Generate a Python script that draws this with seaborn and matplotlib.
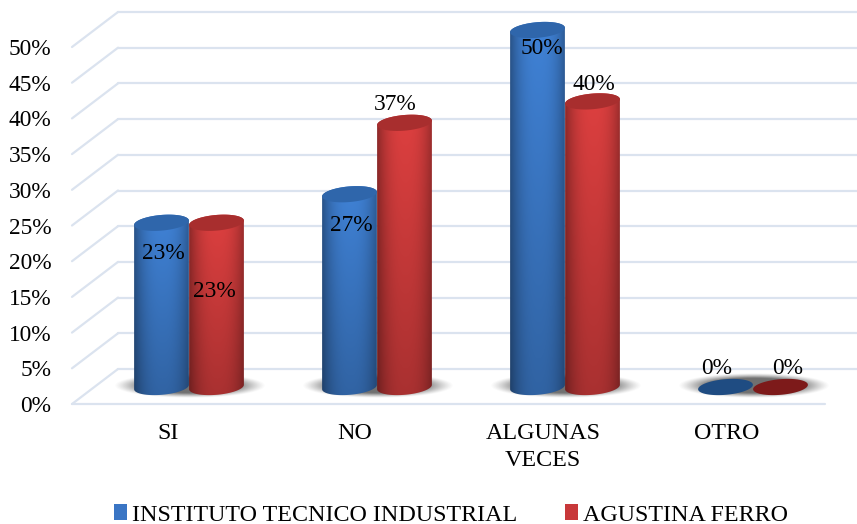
import numpy as np
import pandas as pd
import seaborn as sns
import matplotlib.pyplot as plt
from matplotlib.path import Path

categories = ['SI', 'NO', 'ALGUNAS\nVECES', 'OTRO']
series_names = ['INSTITUTO TECNICO INDUSTRIAL', 'AGUSTINA FERRO']
instituto = [23, 27, 50, 0]
agustina = [23, 37, 40, 0]
y_ticks = [0, 5, 10, 15, 20, 25, 30, 35, 40, 45, 50]
tick_labels = ['0%', '5%', '10%', '15%', '20%', '25%', '30%', '35%', '40%', '45%', '50%']

# label offsets from the top of each cylinder, in pixels
label_offsets = [
    [(1, -31), (1, -31), (3, -18), (-10, 19)],
    [(-3, -69), (-10, 18), (0, 17), (6, 19)],
]
xlabel_shift = [-21, -22, -22, -26]
body_colors = [(0.25, 0.51, 0.84), (0.87, 0.25, 0.25)]
top_colors = ['#2f66ab', '#a82e2e']
flat_colors = ['#1f4c82', '#7d1a1a']

W, H = 857, 524
SX = 188.0  # pixels per category
SY = 7.14   # pixels per percent
BASE = 17 / SY   # cylinders stand in the middle of the floor
BACK = 35 / SY   # back wall offset
FS = 17.3
FS_NUM = 16.8

sns.set_theme(style='white')
plt.rcParams['font.family'] = ['Liberation Serif', 'DejaVu Serif']

df = pd.DataFrame({
    'cat': categories * 2,
    'serie': [series_names[0]] * 4 + [series_names[1]] * 4,
    'val': instituto + agustina,
})

fig = plt.figure(figsize=(W / 100, H / 100), dpi=100, facecolor='white')
ax = fig.add_axes([72 / W, (H - 404) / H, (W - 72) / W, 404 / H])

sns.barplot(data=df, x='cat', y='val', hue='serie', hue_order=series_names,
            palette=['#3a75c4', '#c8383a'], width=0.585, gap=0, errorbar=None,
            linewidth=0, saturation=1, ax=ax, zorder=3)

xmin, xmax = (72 - 189) / SX, (W - 189) / SX
ymin, ymax = 0, 404 / SY


def ellipse_points(cx, cy, width, t):
    # slightly tilted ellipse, worked out in pixels and returned in data units
    a, b, tilt = width * SX / 2, 7.8, np.radians(5)
    px = a * np.cos(t) * np.cos(tilt) - b * np.sin(t) * np.sin(tilt)
    py = a * np.cos(t) * np.sin(tilt) + b * np.sin(t) * np.cos(tilt)
    return np.column_stack([cx + px / SX, cy + py / SY])


# back wall and floor
left_back = (118 - 189) / SX
grid = '#dbe3ef'
for v in y_ticks:
    ax.plot([xmin, left_back], [v, v + BACK], color=grid, lw=1.6, zorder=1, clip_on=False)
    ax.plot([left_back, xmax], [v + BACK, v + BACK], color=grid, lw=1.6, zorder=1)
ax.plot([xmin, (825 - 189) / SX], [0, 0], color=grid, lw=1.6, zorder=1, clip_on=False)

# soft shadow under every group
yy, xx = np.mgrid[-1:1:60j, -1:1:200j]
dist = np.sqrt(xx ** 2 + yy ** 2)
shadow = np.zeros(dist.shape + (4,))
shadow[..., :3] = 0.3
shadow[..., 3] = 0.8 * np.clip((1 - dist) / 0.4, 0, 1) ** 1.2
for i in range(len(categories)):
    ax.imshow(shadow, extent=[i - 75 / SX, i + 77 / SX, BASE - 11 / SY, BASE + 14 / SY],
              aspect='auto', zorder=2, interpolation='bilinear')

# turn the flat bars into shaded cylinders
u = np.linspace(0, 1, 80)
v_grad = np.linspace(0, 1, 120)[:, None]
for s, container in enumerate(ax.containers):
    for j, bar in enumerate(container):
        bar.set_y(BASE)
        x0, w = bar.get_x(), bar.get_width()
        y0, h = bar.get_y(), bar.get_height()
        cx = x0 + w / 2
        bar.set_facecolor('none')
        top = y0 + h
        if h > 0:
            lower = ellipse_points(cx, y0, w, np.linspace(np.pi, 2 * np.pi, 40))
            upper = ellipse_points(cx, top, w, np.linspace(0, np.pi, 40))
            outline = np.vstack([lower, upper, lower[:1]])
            across = 1 - 0.32 * np.abs((u - 0.52) * 2) ** 2.5
            down = 1 - 0.24 * v_grad
            rgb = np.array(body_colors[s])[None, None, :] * (across[None, :] * down)[..., None]
            im = ax.imshow(rgb, extent=[x0, x0 + w, y0 - 1.5, top + 1.5], aspect='auto',
                           zorder=3 + s, interpolation='bilinear', origin='upper')
            im.set_clip_path(Path(outline), ax.transData)
            color = top_colors[s]
        else:
            color = flat_colors[s]
        ax.fill(*ellipse_points(cx, top, w, np.linspace(0, 2 * np.pi, 80)).T,
                color=color, lw=0, zorder=3 + s)
        dx, dy = label_offsets[s][j]
        ax.annotate(f'{bar.get_height():.0f}%', (cx, top), xytext=(dx + 1, dy),
                    textcoords='offset pixels', ha='center', va='center',
                    fontsize=FS_NUM, color='black', zorder=8)

ax.set_xlim(xmin, xmax)
ax.set_ylim(ymin, ymax)
ax.set_xlabel('')
ax.set_ylabel('')
ax.set_yticks(y_ticks)
ax.set_yticklabels(tick_labels, fontsize=FS_NUM, color='black')
# axis labels sit on the front edge of the floor, left of the cylinders
ax.set_xticks(np.arange(len(categories)) + np.array(xlabel_shift) / SX)
ax.set_xticklabels(categories, fontsize=FS, color='black', linespacing=1.42)
ax.tick_params(axis='y', length=0, pad=15)
ax.tick_params(axis='x', length=0, pad=13.5)
ax.patch.set_alpha(0)
sns.despine(ax=ax, left=True, bottom=True)

sns.move_legend(ax, 'center', bbox_to_anchor=(451 / W, 1 - 515 / H), bbox_transform=fig.transFigure,
                ncol=2, frameon=False, title=None, fontsize=FS, handlelength=0.55,
                handleheight=0.62, handletextpad=0.2, columnspacing=2.0,
                labelcolor='black', borderpad=0, borderaxespad=0)

fig.savefig('out.png', dpi=100)
